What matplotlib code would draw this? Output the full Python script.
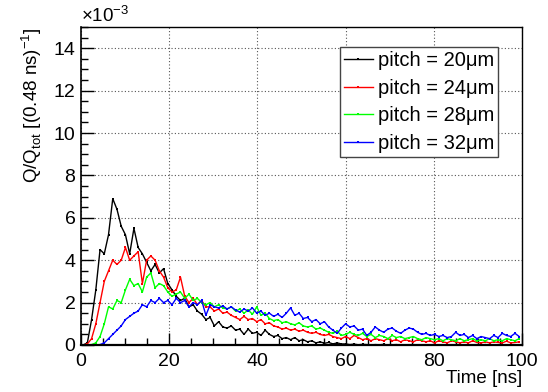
import numpy as np
import matplotlib
matplotlib.use("Agg")
import matplotlib.pyplot as plt
from matplotlib.ticker import MultipleLocator

plt.rcParams['font.family'] = ['Liberation Sans', 'DejaVu Sans']

bin_width = 0.96  # ns, sampled every other 0.48 ns bin

# values in units of 1e-3
pitch20 = [0, 0.1, 1.2, 2.6, 4.5, 4.3, 5.2, 6.9, 6.4, 5.6,
           5.2, 4.3, 5.5, 4.6, 4.3, 3.9, 3.5, 3.8, 3.4, 3.6,
           2.9, 2.6, 2.3, 2.1, 2.2, 1.8, 1.9, 1.6, 1.45, 1.2,
           1.3, 0.9, 1.1, 0.85, 0.8, 0.9, 0.7, 0.75, 0.5, 0.75,
           0.55, 0.6, 0.45, 0.7, 0.5, 0.4, 0.45, 0.3, 0.35, 0.25,
           0.35, 0.2, 0.25, 0.15, 0.2, 0.1, 0.15, 0.08, 0.12, 0.05,
           0.1, 0.05, 0.05, 0.02, 0.04, 0.01, 0.03, 0.02, 0, 0.02,
           0.01, 0.03, 0, 0.01, 0.02, 0, 0.01, 0, 0.02, 0,
           0.01, 0, 0.01, 0.02, 0, 0, 0.01, 0, 0.02, 0,
           0.01, 0, 0, 0.01, 0, 0.02, 0, 0, 0.01, 0,
           0.01, 0, 0, 0.01]
pitch24 = [0, 0.05, 0.3, 1.0, 2.0, 3.0, 3.5, 4.0, 3.8, 4.0,
           4.6, 4.0, 4.2, 4.4, 2.9, 4.0, 4.2, 4.0, 3.5, 3.2,
           2.7, 2.5, 2.6, 3.2, 2.3, 2.0, 2.2, 1.9, 2.1, 1.8,
           1.8, 1.6, 1.7, 1.5, 1.55, 1.4, 1.3, 1.2, 1.35, 1.2,
           1.25, 1.1, 1.2, 1.0, 1.05, 0.9, 0.85, 0.75, 0.8, 0.7,
           0.75, 0.65, 0.7, 0.6, 0.55, 0.6, 0.5, 0.45, 0.5, 0.4,
           0.35, 0.3, 0.4, 0.3, 0.45, 0.35, 0.25, 0.3, 0.2, 0.3,
           0.25, 0.2, 0.3, 0.2, 0.25, 0.15, 0.25, 0.2, 0.15, 0.25,
           0.2, 0.15, 0.2, 0.1, 0.2, 0.15, 0.1, 0.2, 0.15, 0.1,
           0.15, 0.1, 0.2, 0.12, 0.1, 0.15, 0.1, 0.15, 0.12, 0.1,
           0.18, 0.1, 0.12, 0.15]
pitch28 = [0, 0, 0.02, 0.1, 0.4, 1.0, 1.8, 1.7, 2.1, 2.0,
           2.6, 3.1, 2.8, 2.9, 2.5, 3.2, 3.4, 2.7, 2.9, 2.8,
           2.5, 2.3, 2.4, 2.5, 2.2, 2.4, 2.1, 2.2, 2.0, 1.9,
           2.0, 1.8, 1.9, 1.75, 1.7, 1.8, 1.6, 1.7, 1.5, 1.65,
           1.45, 1.8, 1.4, 1.5, 1.25, 1.15, 1.2, 1.05, 1.1, 1.0,
           0.95, 1.05, 0.9, 0.85, 0.9, 0.75, 0.8, 0.7, 0.6, 0.55,
           0.65, 0.45, 0.5, 0.6, 0.5, 0.45, 0.55, 0.4, 0.5, 0.35,
           0.45, 0.4, 0.3, 0.45, 0.35, 0.4, 0.3, 0.35, 0.4, 0.3,
           0.25, 0.35, 0.3, 0.25, 0.3, 0.2, 0.3, 0.25, 0.2, 0.3,
           0.2, 0.25, 0.3, 0.2, 0.25, 0.2, 0.3, 0.2, 0.25, 0.2,
           0.3, 0.25, 0.2, 0.3]
pitch32 = [0, 0, 0, 0, 0.02, 0.1, 0.3, 0.5, 0.7, 0.9,
           1.2, 1.35, 1.5, 1.6, 1.9, 1.8, 2.1, 2.0, 2.2, 2.0,
           2.1, 1.9, 2.2, 2.0, 2.1, 1.8, 2.0, 1.9, 2.1, 1.4,
           1.9, 1.8, 1.75, 1.85, 1.7, 1.8, 1.65, 1.55, 1.7, 1.6,
           1.75, 1.5, 1.6, 1.4, 1.5, 1.35, 1.45, 1.3, 1.5, 1.75,
           1.4, 1.5, 1.25, 1.3, 1.1, 1.2, 1.0, 1.1, 0.85, 0.7,
           0.55, 0.8, 1.0, 0.85, 0.9, 0.7, 0.75, 0.45, 0.6, 0.85,
           0.7, 0.6, 0.75, 0.8, 0.65, 0.55, 0.7, 0.8, 0.75, 0.6,
           0.5, 0.55, 0.45, 0.5, 0.4, 0.45, 0.35, 0.4, 0.6, 0.45,
           0.5, 0.35, 0.45, 0.3, 0.4, 0.35, 0.3, 0.45, 0.35, 0.55,
           0.45, 0.4, 0.55, 0.4]

series = [("pitch = 20\u03bcm", pitch20, "black"),
          ("pitch = 24\u03bcm", pitch24, "#ff0000"),
          ("pitch = 28\u03bcm", pitch28, "#00ff00"),
          ("pitch = 32\u03bcm", pitch32, "#0000ff")]

fig = plt.figure(figsize=(5.48, 3.92), dpi=100)
ax = fig.add_axes([0.1478, 0.1199, 0.8048, 0.8112])

for label, vals, col in series:
    vals = np.array(vals, dtype=float)
    t = (np.arange(len(vals)) + 0.5) * bin_width
    ax.plot(t, vals, color=col, lw=1.0, marker='s', ms=1.6, mew=0,
            label=label)

ax.set_xlim(0, 100)
ax.set_ylim(0, 15)
ax.xaxis.set_major_locator(MultipleLocator(20))
ax.xaxis.set_minor_locator(MultipleLocator(5))
ax.yaxis.set_major_locator(MultipleLocator(2))
ax.yaxis.set_minor_locator(MultipleLocator(0.5))
ax.tick_params(which='both', direction='in', labelsize=14, width=1.0,
               top=False, right=False, colors='black')
ax.tick_params(which='major', length=9)
ax.tick_params(which='minor', length=5)
ax.tick_params(axis='x', pad=6)
ax.tick_params(axis='y', pad=4)
ax.grid(True, which='major', ls=(0, (1, 2)), color='#555555', lw=0.8)
for s in ax.spines.values():
    s.set_linewidth(1.0)
ax.spines['bottom'].set_linewidth(1.6)
ax.spines['left'].set_linewidth(1.2)

ax.set_xlabel("Time [ns]", fontsize=13.5, loc='right', labelpad=0)
ax.set_ylabel(r"Q/Q$_{\mathregular{tot}}$ [(0.48 ns)$^{\mathregular{-1}}$]",
              fontsize=13.5, loc='top', labelpad=7)
fig.text(81 / 548, 1 - 16 / 392, r"$\mathregular{\times 10^{-3}}$",
         fontsize=13.5, ha='left', va='center')

leg = ax.legend(loc='upper left', bbox_to_anchor=(0.587, 0.937),
                fontsize=14.5, frameon=True, fancybox=False,
                edgecolor='#444444', framealpha=1, borderpad=0.22,
                handlelength=1.4, handletextpad=0.25, labelspacing=0.42,
                borderaxespad=0)
leg.get_frame().set_linewidth(1.0)

fig.savefig("out.png", dpi=100)
